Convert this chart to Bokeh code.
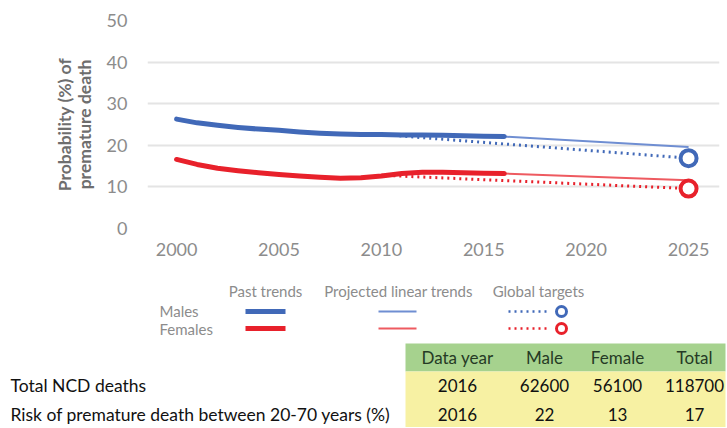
from bokeh.plotting import figure
from bokeh.layouts import column
from bokeh.models import Range1d, FixedTicker
from bokeh.core.properties import value
from bokeh.embed import file_html
from bokeh.resources import INLINE

# ---------------- data ----------------
years = list(range(2000, 2017))
male_past = [26.3, 25.4, 24.8, 24.3, 23.9, 23.6, 23.2, 22.9, 22.7, 22.6, 22.6, 22.5, 22.5, 22.4, 22.3, 22.2, 22.1]
female_past = [16.6, 15.4, 14.5, 13.9, 13.4, 13.0, 12.6, 12.3, 12.1, 12.2, 12.6, 13.2, 13.5, 13.5, 13.4, 13.3, 13.2]
proj_years = [2016, 2025]
male_proj = [22.1, 19.6]
female_proj = [13.2, 11.6]
target_years = [2010, 2025]
male_target = [22.6, 16.9]
female_target = [12.8, 9.6]
x_ticks = [2000, 2005, 2010, 2015, 2020, 2025]
y_ticks = [0, 10, 20, 30, 40, 50]

table_header = ["Data year", "Male", "Female", "Total"]
row_labels = ["Total NCD deaths", "Risk of premature death between 20-70 years (%)"]
row_values = [["2016", "62600", "56100", "118700"], ["2016", "22", "13", "17"]]
legend_cols = ["Past trends", "Projected linear trends", "Global targets"]
legend_rows = ["Males", "Females"]

BLUE = "#4169b8"
RED = "#e8212b"
BLUE_L = "#6f8ed2"
RED_L = "#ee5a60"
GRAY = "#8c8c8c"
FONT = "Lato"

H1 = 270
H2 = 157

# ---------------- chart ----------------
p = figure(width=727, height=H1, output_backend="svg", toolbar_location=None,
           x_range=Range1d(1998.58, 2026.51), y_range=Range1d(0, 50),
           min_border_left=147, min_border_right=8, min_border_top=20, min_border_bottom=42,
           frame_align=False)
p.outline_line_color = None
p.xgrid.grid_line_color = None
p.ygrid.grid_line_color = "#e4e4e4"
p.ygrid.grid_line_width = 2
p.yaxis.ticker = FixedTicker(ticks=y_ticks)
p.xaxis.ticker = FixedTicker(ticks=x_ticks)
for ax in (p.xaxis[0], p.yaxis[0]):
    ax.axis_line_color = None
    ax.major_tick_line_color = None
    ax.minor_tick_line_color = None
    ax.major_label_text_font = FONT
    ax.major_label_text_font_size = "18px"
    ax.major_label_text_color = GRAY
p.xaxis.major_label_standoff = 8
p.yaxis.major_label_standoff = 14
p.yaxis.axis_label = "Probability (%) of\npremature death"
p.yaxis.axis_label_text_font = FONT
p.yaxis.axis_label_text_font_style = "bold"
p.yaxis.axis_label_text_font_size = "17.5px"
p.yaxis.axis_label_text_line_height = 0.95
p.yaxis.axis_label_text_color = "#6e6e6e"
p.yaxis.axis_label_standoff = 9

# projected linear (thin)
p.line(proj_years, male_proj, line_color=BLUE_L, line_width=2)
p.line(proj_years, female_proj, line_color=RED_L, line_width=2)
# global targets (dotted)
p.line(target_years, male_target, line_color=BLUE, line_width=3, line_dash="2 4")
p.line(target_years, female_target, line_color=RED, line_width=3, line_dash="2 4")
# past trends (thick)
p.line(years, male_past, line_color=BLUE, line_width=5, line_join="round", line_cap="round")
p.line(years, female_past, line_color=RED, line_width=5, line_join="round", line_cap="round")
# target circles
p.scatter([target_years[1]], [male_target[1]], size=16, line_width=4, line_color=BLUE, fill_color="white")
p.scatter([target_years[1]], [female_target[1]], size=16, line_width=4, line_color=RED, fill_color="white")

# ---------------- legend + table ----------------
q = figure(width=727, height=H2, output_backend="svg", toolbar_location=None,
           x_range=Range1d(0, 727), y_range=Range1d(H2, 0),
           min_border=0, min_border_left=0, min_border_right=0, min_border_top=0, min_border_bottom=0,
           frame_align=False)
q.axis.visible = False
q.grid.visible = False
q.outline_line_color = None

OY = H1  # page y of top of this figure

def sy(page_y):
    return page_y - OY

# legend column headings
leg_x = [265, 398, 538]
q.text(leg_x, [sy(290)] * 3, text=legend_cols, text_font=value(FONT), text_font_size="15px",
       text_color=GRAY, text_align="center", text_baseline="middle")
q.text([159] * 2, [sy(310), sy(328)], text=legend_rows, text_font=value(FONT), text_font_size="15px",
       text_color=GRAY, text_align="left", text_baseline="middle")
# legend samples
q.segment([245], [sy(311)], [285], [sy(311)], line_color=BLUE, line_width=5)
q.segment([245], [sy(328)], [285], [sy(328)], line_color=RED, line_width=5)
q.segment([378], [sy(311)], [416], [sy(311)], line_color=BLUE_L, line_width=2)
q.segment([378], [sy(328)], [416], [sy(328)], line_color=RED_L, line_width=2)
q.segment([508], [sy(311)], [550], [sy(311)], line_color=BLUE, line_width=2.5, line_dash="2 4")
q.segment([508], [sy(328)], [550], [sy(328)], line_color=RED, line_width=2.5, line_dash="2 4")
q.scatter([561], [sy(311)], size=10, line_width=3, line_color=BLUE, fill_color="white")
q.scatter([561], [sy(328)], size=10, line_width=3, line_color=RED, fill_color="white")

# table backgrounds
q.quad(left=[405], right=[725], top=[sy(343)], bottom=[sy(371)], fill_color="#a6d28e", line_color=None)
q.quad(left=[405], right=[725], top=[sy(371)], bottom=[H2], fill_color="#f7f1a3", line_color=None)

col_x = [457, 544, 617, 694]
q.text(col_x, [sy(357)] * 4, text=table_header, text_font=value(FONT), text_font_size="17px",
       text_color="#253a25", text_align="center", text_baseline="middle")
row_y = [sy(385), sy(414)]
for ry, vals in zip(row_y, row_values):
    q.text(col_x, [ry] * 4, text=vals, text_font=value(FONT), text_font_size="17px",
           text_color="#111111", text_align="center", text_baseline="middle")
q.text([10] * 2, row_y, text=row_labels, text_font=value(FONT), text_font_size="17.5px",
       text_color="#111111", text_align="left", text_baseline="middle")

layout = column(p, q, spacing=0)
open("out.html", "w").write(file_html(layout, INLINE))
